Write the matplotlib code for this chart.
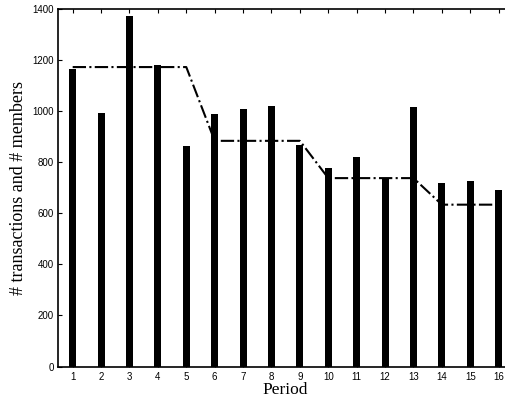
import matplotlib
matplotlib.use("Agg")
import matplotlib.pyplot as plt

periods = list(range(1, 17))
transactions = [1165, 992, 1374, 1180, 864, 991, 1010, 1021, 868, 779, 821, 735, 1016, 717, 725, 692]
members = [1173, 1173, 1173, 1173, 1173, 884, 884, 884, 884, 738, 738, 738, 738, 634, 634, 634]
yticks = [0, 200, 400, 600, 800, 1000, 1200, 1400]

fig = plt.figure(figsize=(5.05, 3.98), dpi=100)
# axes run past the right edge, as in the reference (cropped)
ax = fig.add_axes([0.1158, 0.0791, 0.8998, 0.898])

ax.bar(periods, transactions, width=0.25, color="black")
ax.plot(periods, members, color="black", linestyle="-.", linewidth=1.5)

ax.set_xlim(0.5, 16.5)
ax.set_ylim(0, 1400)
ax.set_xticks(periods)
ax.set_yticks(yticks)
ax.tick_params(direction="in", top=True, right=True, length=3,
               labelsize=7, labelfontfamily="Liberation Sans")
ax.tick_params(axis="x", pad=4)

for s in ax.spines.values():
    s.set_linewidth(1.2)

ax.set_xlabel("Period", family="Liberation Serif", fontsize=12.5, labelpad=0)
ax.set_ylabel("# transactions and # members", family="Liberation Serif", fontsize=13, labelpad=4)

fig.savefig("out.png", dpi=100)
